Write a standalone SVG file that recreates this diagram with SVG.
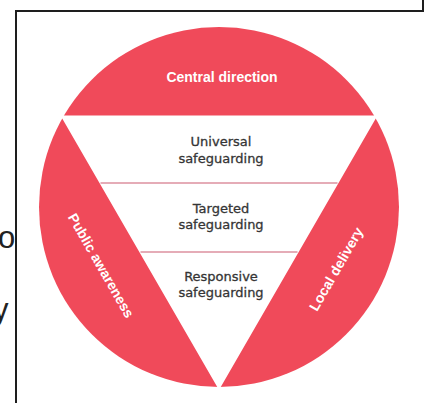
<svg xmlns="http://www.w3.org/2000/svg" width="424" height="403" viewBox="0 0 424 403">
  <style>
    .seg { fill: #f04a5a; }
    .tri { fill: #ffffff; stroke: #ffffff; stroke-width: 3; stroke-linejoin: miter; stroke-miterlimit: 10; }
    .div { stroke: #cc5a70; stroke-width: 1.2; fill: none; }
    .lbl { font-family: "Liberation Sans", Arial, sans-serif; font-weight: bold; font-size: 14px; fill: #ffffff; text-anchor: middle; }
    .lvl { font-family: "DejaVu Sans", "Liberation Sans", sans-serif; font-size: 13px; fill: #353535; stroke: #353535; stroke-width: 0.3; text-anchor: middle; }
    .doc { font-family: "Liberation Sans", Arial, sans-serif; font-size: 31px; fill: #222222; }
    .frame { stroke: #1e1e1e; stroke-width: 2; fill: none; }
  </style>
  <rect width="424" height="403" fill="#ffffff"/>
  <g id="page-fragments">
    <text class="doc" x="-2" y="247.5">o</text>
    <text class="doc" x="-7" y="320">y</text>
    <path class="frame" d="M16,403 V11 H424"/>
    <path class="frame" d="M423,0 V10"/>
  </g>
  <g id="circle">
    <circle class="seg" cx="219" cy="207" r="180"/>
  </g>
  <g id="triangle">
    <polygon class="tri" points="63.1,117 374.9,117 219,387"/>
  </g>
  <g id="connectors">
    <line class="div" x1="100.5" y1="183" x2="337.5" y2="183"/>
    <line class="div" x1="140.5" y1="252" x2="297.5" y2="252"/>
  </g>
  <g id="central-direction">
    <text class="lbl" x="222" y="82">Central direction</text>
  </g>
  <g id="public-awareness">
    <text class="lbl" transform="translate(101.2,265.5) rotate(60)" x="0" y="5">Public awareness</text>
  </g>
  <g id="local-delivery">
    <text class="lbl" transform="translate(336,269) rotate(-60)" x="0" y="5">Local delivery</text>
  </g>
  <g id="universal">
    <text class="lvl" x="221" y="146">Universal</text>
    <text class="lvl" x="221" y="162.5">safeguarding</text>
  </g>
  <g id="targeted">
    <text class="lvl" x="221" y="213">Targeted</text>
    <text class="lvl" x="221" y="229.3">safeguarding</text>
  </g>
  <g id="responsive">
    <text class="lvl" x="221" y="280.5">Responsive</text>
    <text class="lvl" x="221" y="296.7">safeguarding</text>
  </g>
</svg>
